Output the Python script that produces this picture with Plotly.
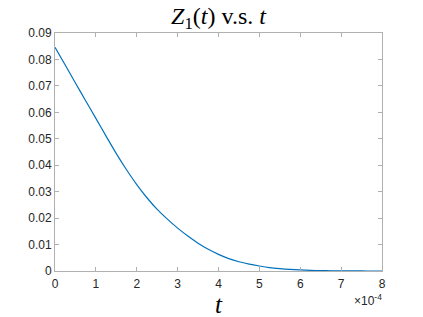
import plotly.graph_objects as go

# t in units of 1e-4
t_scaled = [0, 0.25, 0.5, 0.75, 1, 1.25, 1.5, 1.75, 2, 2.25, 2.5, 2.75, 3, 3.25, 3.5, 3.75, 4,
            4.25, 4.5, 4.75, 5, 5.25, 5.5, 5.75, 6, 6.25, 6.5, 6.75, 7, 7.25, 7.5, 7.75, 8]
z1 = [0.0846, 0.0779, 0.0711, 0.0644, 0.0577, 0.0510, 0.0444, 0.0383, 0.0327, 0.0277, 0.0233,
      0.0196, 0.0162, 0.0132, 0.0105, 0.0082, 0.0063, 0.0047, 0.0035, 0.0026, 0.0019, 0.0013,
      0.0009, 0.0006, 0.0004, 0.00025, 0.00015, 0.00008, 0.00004, 0.00002, 0.00001, 0, 0]
t = [v * 1e-4 for v in t_scaled]

x_tickvals = [i * 1e-4 for i in range(9)]
x_ticktext = ["0", "1", "2", "3", "4", "5", "6", "7", "8"]
y_tickvals = [0, 0.01, 0.02, 0.03, 0.04, 0.05, 0.06, 0.07, 0.08, 0.09]
y_ticktext = ["0", "0.01", "0.02", "0.03", "0.04", "0.05", "0.06", "0.07", "0.08", "0.09"]

fig = go.Figure()
fig.add_trace(go.Scatter(x=t, y=z1, mode="lines",
                         line=dict(color="#0072BD", width=1.2, shape="spline", smoothing=0.8),
                         showlegend=False))

axis_common = dict(showgrid=False, zeroline=False, showline=True, linecolor="#b0b0b0", linewidth=1,
                   mirror="ticks", ticks="inside", ticklen=4, tickcolor="#b0b0b0", tickwidth=1,
                   automargin=False,
                   tickfont=dict(family="Liberation Sans, Arial", size=12, color="#262626"))

fig.update_layout(
    width=423, height=317,
    margin=dict(l=55, r=41, t=33, b=46),
    paper_bgcolor="white", plot_bgcolor="white",
    title=dict(text="<i>Z</i><sub>1</sub>(<i>t</i>) v.s. <i>t</i>",
               font=dict(family="Liberation Serif, DejaVu Serif", size=24, color="#000"),
               x=0.5165, xanchor="center", y=0.95, yanchor="middle", automargin=False),
    xaxis=dict(range=[0, 8e-4], tickvals=x_tickvals, ticktext=x_ticktext, ticklabelstandoff=2,
               **axis_common),
    yaxis=dict(range=[0, 0.09], tickvals=y_tickvals, ticktext=y_ticktext, **axis_common),
)
# x-axis title placed as an annotation just under the tick labels
fig.add_annotation(text="<i>t</i>", xref="paper", yref="paper", x=0.5, y=-0.075,
                   xanchor="center", yanchor="top", showarrow=False,
                   font=dict(family="Liberation Serif, DejaVu Serif", size=25, color="#000"))
fig.add_annotation(text="×10<sup>-4</sup>", xref="paper", yref="paper", x=1.005, y=-0.08,
                   xanchor="right", yanchor="top", showarrow=False,
                   font=dict(family="Liberation Sans, Arial", size=12, color="#262626"))

fig.write_html("out.html")
